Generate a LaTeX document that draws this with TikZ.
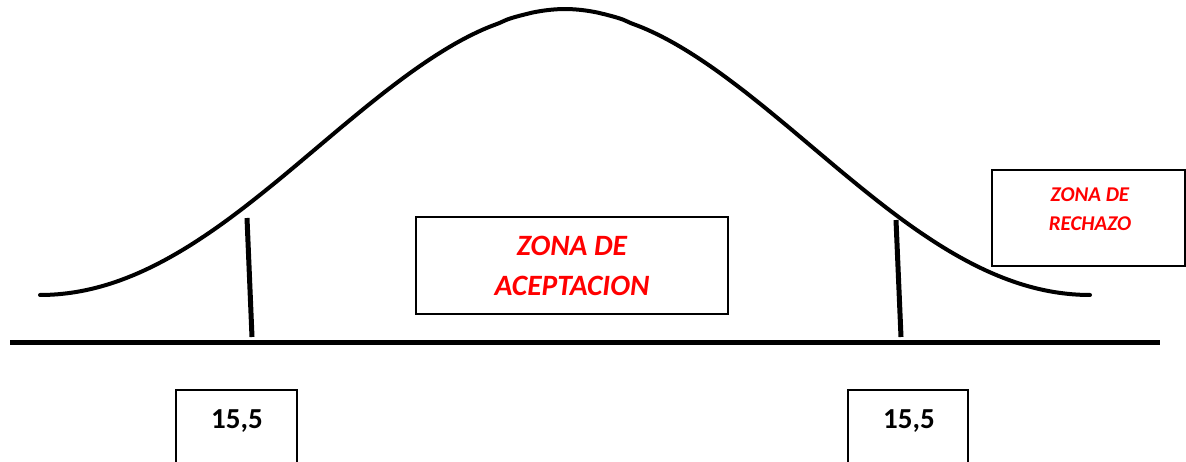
\documentclass[tikz,border=0pt]{standalone}
\usepackage{fontspec}
\setmainfont{Carlito}
\tikzset{
    zonebox/.style={draw, line width=1.3pt, inner sep=0pt},
    zonetext/.style={text=red, font=\bfseries\itshape, align=center},
}
\begin{document}
\begin{tikzpicture}[x=1pt, y=-1pt]
        \useasboundingbox (0,0) rectangle (1186,462);

        % curve and axis
        \draw[line width=4pt, line cap=round] plot[domain=40:1090, samples=120, smooth]
            (\x, {152 - 143*cos(180*(abs(\x-565)/525)^0.95)});
        \coordinate (axisL) at (10,342);
        \coordinate (axisR) at (1160,342);
        \draw[line width=5pt] (axisL) -- (axisR);

        % critical values
        \coordinate (cutLtop) at (247,218);
        \coordinate (cutLbot) at (252,337);
        \coordinate (cutRtop) at (896,220);
        \coordinate (cutRbot) at (901,337);
        \draw[line width=5pt] (cutLtop) -- (cutLbot);
        \draw[line width=5pt] (cutRtop) -- (cutRbot);

        \node[zonebox, zonetext, minimum width=312pt, minimum height=97pt,
            font=\fontsize{29.5}{40}\selectfont\bfseries\itshape] (accept) at (572,265.5)
            {ZONA DE\\ACEPTACION};

        \node[zonebox, minimum width=193pt, minimum height=96pt] (rejectbox) at (1088.5,218) {};
        \node[zonetext, font=\fontsize{21}{29}\selectfont\bfseries\itshape] (reject) at (1090,209.5)
            {ZONA DE\\RECHAZO};

        \node[zonebox, minimum width=121pt, minimum height=90pt] (valLbox) at (236.5,435) {};
        \node[font=\fontsize{29}{32}\selectfont\bfseries, anchor=base] (valL) at (237,428) {15,5};
        \node[zonebox, minimum width=120pt, minimum height=90pt] (valRbox) at (908,435) {};
        \node[font=\fontsize{29}{32}\selectfont\bfseries, anchor=base] (valR) at (909,428) {15,5};
    \end{tikzpicture}
\end{document}
